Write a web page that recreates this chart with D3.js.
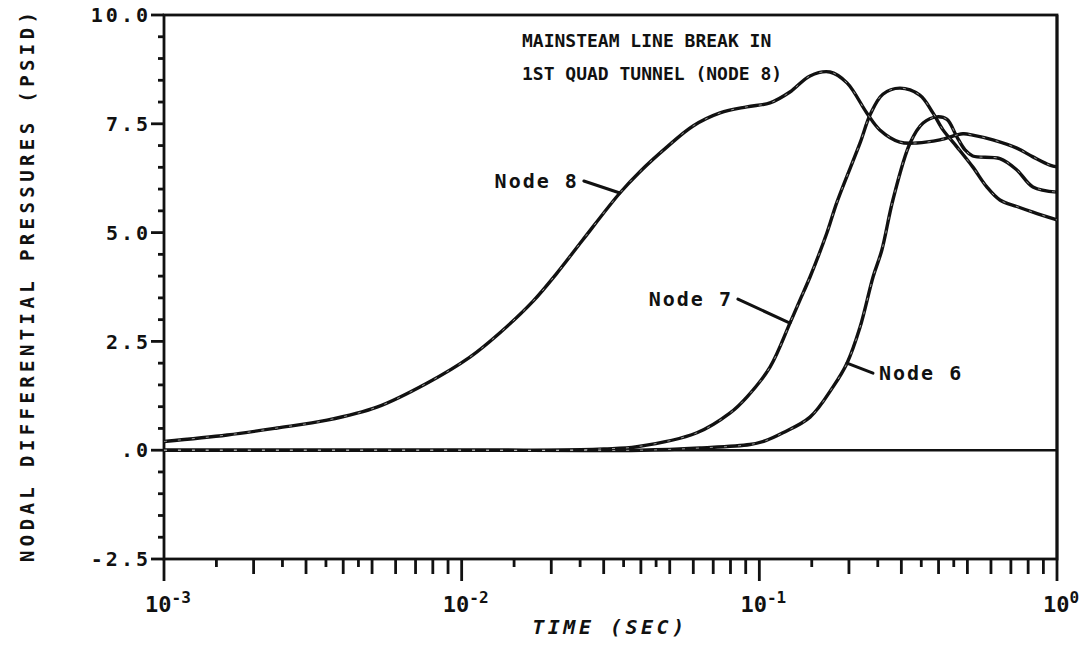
<!DOCTYPE html>
<html>
<head>
<meta charset="utf-8">
<script src="https://cdn.jsdelivr.net/npm/d3@7"></script>
<style>
  html, body { margin: 0; padding: 0; background: #fff; }
  svg { display: block; }
  text { font-family: "DejaVu Sans Mono", "Liberation Mono", monospace; font-weight: bold; fill: #111; }
</style>
</head>
<body>
<div id="chart"></div>
<script>
// data: [time (sec), pressure (psid)]
const node8 = [
  [0.001, 0.2], [0.00163, 0.35], [0.0024, 0.51], [0.00353, 0.69], [0.00519, 0.99],
  [0.00764, 1.54], [0.01066, 2.14], [0.01345, 2.7], [0.01735, 3.42], [0.0209, 4.07],
  [0.0255, 4.83], [0.034, 5.91], [0.0397, 6.4], [0.049, 6.97], [0.0599, 7.45],
  [0.0738, 7.75], [0.0908, 7.89], [0.1086, 7.98], [0.1267, 8.23], [0.148, 8.6],
  [0.1726, 8.69], [0.197, 8.44], [0.2296, 7.75], [0.254, 7.36], [0.2965, 7.08],
  [0.338, 7.06], [0.404, 7.13], [0.483, 7.27], [0.521, 7.24], [0.609, 7.13],
  [0.733, 6.94], [0.83, 6.74], [0.946, 6.55], [1.0, 6.51]
];
const node7 = [
  [0.001, 0.0], [0.01, 0.0], [0.02, 0.0], [0.03, 0.03], [0.0388, 0.08], [0.0617, 0.4],
  [0.0796, 0.85], [0.0908, 1.22], [0.1086, 1.91], [0.1267, 2.92], [0.1369, 3.45],
  [0.148, 3.98], [0.1686, 4.99], [0.1823, 5.7], [0.218, 7.06], [0.236, 7.72],
  [0.26, 8.18], [0.2965, 8.32], [0.346, 8.16], [0.383, 7.75], [0.414, 7.36],
  [0.461, 6.97], [0.521, 6.51], [0.581, 6.05], [0.643, 5.75], [0.733, 5.6],
  [0.83, 5.47], [1.0, 5.29]
];
const node6 = [
  [0.001, 0.0], [0.01, 0.0], [0.04, 0.0], [0.0631, 0.05], [0.0929, 0.13], [0.105, 0.22], [0.12, 0.4],
  [0.148, 0.76], [0.1766, 1.45], [0.197, 2.0], [0.218, 2.83], [0.241, 3.98],
  [0.258, 4.6], [0.281, 5.75], [0.321, 7.06], [0.355, 7.52], [0.395, 7.66],
  [0.427, 7.6], [0.461, 7.2], [0.491, 6.9], [0.521, 6.76], [0.643, 6.7],
  [0.733, 6.44], [0.83, 6.05], [1.0, 5.93]
];
const zeroLine = [[0.001, 0], [1.0, 0]];

const yTicks = [-2.5, 0, 2.5, 5, 7.5, 10];
const yTickLabels = ["-2.5", ".0", "2.5", "5.0", "7.5", "10.0"];
const xTicks = [0.001, 0.01, 0.1, 1];
const xTickExps = ["-3", "-2", "-1", "0"];

const titleLines = ["MAINSTEAM LINE BREAK IN", "1ST QUAD TUNNEL (NODE 8)"];
const xTitle = "TIME (SEC)";
const yTitle = "NODAL DIFFERENTIAL PRESSURES (PSID)";

// labels: name, series, index of the point the leader touches
const nodeLabels = [
  {name: "Node 8", series: node8, at: 11, dx: -36, dy: -12, side: "left"},
  {name: "Node 7", series: node7, at: 9, dx: -52, dy: -24, side: "left"},
  {name: "Node 6", series: node6, at: 9, dx: 26, dy: 10, side: "right"}
];

const W = 1091, H = 646;
const plot = {left: 164, right: 1057, top: 15, bottom: 559};

const svg = d3.select("#chart").append("svg")
  .attr("width", W)
  .attr("height", H);

const x = d3.scaleLog()
  .domain([0.001, 1])
  .range([plot.left, plot.right]);

const y = d3.scaleLinear()
  .domain([-2.5, 10])
  .range([plot.bottom, plot.top]);

// frame
svg.append("rect")
  .attr("x", plot.left)
  .attr("y", plot.top)
  .attr("width", plot.right - plot.left)
  .attr("height", plot.bottom - plot.top)
  .attr("fill", "none")
  .attr("stroke", "#111")
  .attr("stroke-width", 2.8);

// left axis
const yMinor = d3.range(-2.5, 10.01, 0.5);
svg.append("g")
  .selectAll("line")
  .data(yMinor)
  .enter().append("line")
    .attr("x1", d => plot.left - (yTicks.some(t => Math.abs(t - d) < 1e-6) ? 13 : 6))
    .attr("x2", plot.left)
    .attr("y1", d => y(d))
    .attr("y2", d => y(d))
    .attr("stroke", "#111")
    .attr("stroke-width", 2.8);

svg.append("g")
  .selectAll("text")
  .data(yTicks)
  .enter().append("text")
    .attr("x", plot.left - 13)
    .attr("y", d => y(d))
    .attr("dy", "0.36em")
    .attr("text-anchor", "end")
    .style("font-size", "20px")
    .style("letter-spacing", "3px")
    .text((d, i) => yTickLabels[i]);

// bottom axis
const xMinor = [];
[0.001, 0.01, 0.1].forEach(base => {
  [1.5, 2, 2.5, 3, 3.5, 4, 4.5, 5, 6, 7, 8, 9].forEach(m => {
    xMinor.push({v: base * m, short: m % 1 !== 0});
  });
});
svg.append("g")
  .selectAll("line")
  .data(xMinor)
  .enter().append("line")
    .attr("x1", d => x(d.v))
    .attr("x2", d => x(d.v))
    .attr("y1", plot.bottom)
    .attr("y2", d => plot.bottom + (d.short ? 8 : 15))
    .attr("stroke", "#111")
    .attr("stroke-width", 2.8);

svg.append("g")
  .selectAll("line")
  .data(xTicks)
  .enter().append("line")
    .attr("x1", d => x(d))
    .attr("x2", d => x(d))
    .attr("y1", d => (d === 1 ? plot.top : plot.bottom))
    .attr("y2", plot.bottom + 22)
    .attr("stroke", "#111")
    .attr("stroke-width", 2.8);

const xLab = svg.append("g")
  .selectAll("text")
  .data(xTicks)
  .enter().append("text")
    .attr("x", d => x(d) + 4)
    .attr("y", plot.bottom + 53)
    .attr("text-anchor", "middle")
    .style("font-size", "22px");
xLab.append("tspan").text("10");
xLab.append("tspan")
  .attr("dy", -9)
  .style("font-size", "16px")
  .text((d, i) => xTickExps[i]);

// axis titles
svg.append("text")
  .attr("x", 610)
  .attr("y", 634)
  .attr("text-anchor", "middle")
  .style("font-size", "20px")
  .style("font-style", "italic")
  .style("letter-spacing", "3.5px")
  .text(xTitle);

svg.append("text")
  .attr("transform", "translate(34, 287) rotate(-90)")
  .attr("text-anchor", "middle")
  .attr("textLength", 550)
  .attr("lengthAdjust", "spacing")
  .style("font-size", "19px")
  .text(yTitle);

// title
svg.append("g")
  .selectAll("text")
  .data(titleLines)
  .enter().append("text")
    .attr("x", 522)
    .attr("y", (d, i) => 47 + i * 33)
    .style("font-size", "18px")
    .text(d => d);

// curves
const line = d3.line()
  .x(d => x(d[0]))
  .y(d => y(d[1]))
  .curve(d3.curveCatmullRom.alpha(0.5));

svg.append("path")
  .datum(zeroLine)
  .attr("d", line)
  .attr("fill", "none")
  .attr("stroke", "#111")
  .attr("stroke-width", 2.5);

const series = [node8, node7, node6];
svg.append("g")
  .selectAll("path")
  .data(series)
  .enter().append("path")
    .attr("d", line)
    .attr("fill", "none")
    .attr("stroke", "#111")
    .attr("stroke-width", 3.4)
    .attr("stroke-linejoin", "round");

// scan-like hollow specks
svg.append("g")
  .selectAll("path")
  .data(series)
  .enter().append("path")
    .attr("d", line)
    .attr("fill", "none")
    .attr("stroke", "#fff")
    .attr("stroke-width", 0.8)
    .attr("stroke-dasharray", "3,11")
    .attr("opacity", 0.7);

// node labels with leaders
nodeLabels.forEach(lb => {
  const p = lb.series[lb.at];
  const px = x(p[0]), py = y(p[1]);
  const lx = px + lb.dx, ly = py + lb.dy;
  svg.append("line")
    .attr("x1", px)
    .attr("y1", py)
    .attr("x2", lx)
    .attr("y2", ly)
    .attr("stroke", "#111")
    .attr("stroke-width", 3)
    .attr("stroke-linecap", "round");
  svg.append("text")
    .attr("x", lb.side === "left" ? lx - 5 : lx + 6)
    .attr("y", ly)
    .attr("dy", "0.35em")
    .attr("text-anchor", lb.side === "left" ? "end" : "start")
    .style("font-size", "20px")
    .style("letter-spacing", "2px")
    .text(lb.name);
});
</script>
</body>
</html>
